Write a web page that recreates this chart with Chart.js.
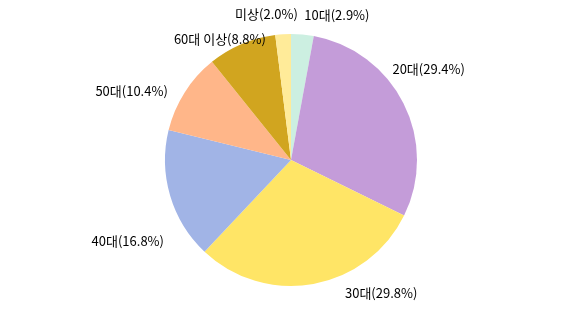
<!DOCTYPE html>
<html>
<head>
<meta charset="utf-8">
<script src="https://cdn.jsdelivr.net/npm/chart.js@4"></script>
<style>
	body { margin: 0; background: #fff; }
	canvas { display: block; }
</style>
</head>
<body>
<canvas id="myChart" width="587" height="309"></canvas>
<script>
var labels = ["10대", "20대", "30대", "40대", "50대", "60대 이상", "미상"];
var values = [2.9, 29.4, 29.8, 16.8, 10.4, 8.8, 2.0];
var colors = ["#ccefe1", "#c49cd9", "#ffe566", "#a1b4e6", "#ffb689", "#d1a51f", "#ffeb99"];

// small nudges so labels sit where the original put them
var labelNudge = [
	[0, 0],
	[-29, -25],
	[28, -11],
	[13, 40],
	[0, 9],
	[32, 13],
	[16, 0],
];

const outsideLabels = {
	id: "outsideLabels",
	afterDraw(chart) {
		const ctx = chart.ctx;
		const meta = chart.getDatasetMeta(0);
		ctx.save();
		ctx.font = '13px "Noto Sans CJK KR", "Noto Sans", sans-serif';
		ctx.fillStyle = "#000";
		ctx.textBaseline = "middle";
		meta.data.forEach(function (arc, i) {
			const p = arc.getProps(["x", "y", "startAngle", "endAngle", "outerRadius"], true);
			const mid = (p.startAngle + p.endAngle) / 2;
			const r = p.outerRadius + 20;
			const x = p.x + Math.cos(mid) * r + labelNudge[i][0];
			const y = p.y + Math.sin(mid) * r + labelNudge[i][1];
			ctx.textAlign = Math.cos(mid) >= 0 ? "left" : "right";
			ctx.fillText(labels[i] + "(" + values[i].toFixed(1) + "%)", x, y);
		});
		ctx.restore();
	},
};

new Chart("myChart", {
	type: "pie",
	data: {
		labels: labels,
		datasets: [
			{
				data: values,
				backgroundColor: colors,
				borderWidth: 0,
			},
		],
	},
	options: {
		responsive: false,
		animation: false,
		layout: { padding: { top: 34, bottom: 23, left: 0, right: 5 } },
		plugins: {
			legend: { display: false },
			tooltip: { enabled: false },
		},
	},
	plugins: [outsideLabels],
});
</script>
</body>
</html>
